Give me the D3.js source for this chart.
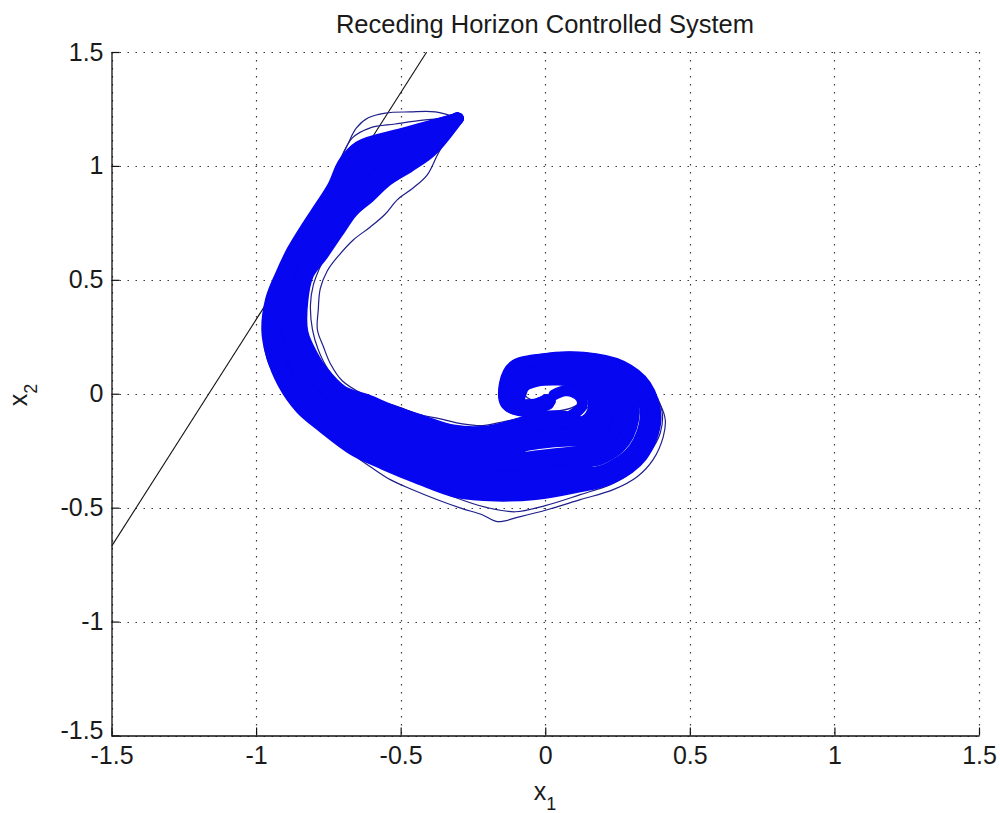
<!DOCTYPE html>
<html>
<head>
<meta charset="utf-8">
<script src="https://cdn.jsdelivr.net/npm/d3@7"></script>
<style>
  body { margin: 0; background: #fff; }
  text { font-family: "Liberation Sans", Arial, Helvetica, sans-serif; fill: #1a1a1a; }
</style>
</head>
<body>
<svg id="chart" width="1000" height="813"></svg>
<script>
// Axis ticks
const xTickValues = [-1.5, -1, -0.5, 0, 0.5, 1, 1.5];
const yTickValues = [-1.5, -1, -0.5, 0, 0.5, 1, 1.5];

// State constraint boundary (x1, x2 end points)
const boundaryX1 = [-1.5, -0.41];
const boundaryX2 = [-0.67, 1.5];

// Closed-loop state trajectories [x1, x2] from the common initial state
const run01 = [[-0.300,1.210],[-0.494,1.143],[-0.645,1.086],[-0.699,1.013],[-0.734,0.914],[-0.777,0.827],[-0.823,0.739],[-0.875,0.631],[-0.916,0.522],[-0.950,0.412],[-0.963,0.280],[-0.948,0.171],[-0.907,0.043],[-0.847,-0.065],[-0.768,-0.150],[-0.665,-0.247],[-0.558,-0.311],[-0.441,-0.372],[-0.304,-0.434],[-0.171,-0.449],[-0.034,-0.442],[0.102,-0.413],[0.228,-0.373],[0.334,-0.276],[0.383,-0.108],[0.348,0.038],[0.266,0.122],[0.132,0.160],[-0.018,0.152],[-0.111,0.121],[-0.141,0.045],[-0.135,-0.047],[-0.067,-0.077],[0.012,-0.045]];
const run02 = [[-0.302,1.206],[-0.477,1.130],[-0.615,1.071],[-0.673,1.000],[-0.713,0.905],[-0.758,0.822],[-0.805,0.734],[-0.857,0.627],[-0.900,0.522],[-0.931,0.412],[-0.941,0.278],[-0.924,0.171],[-0.883,0.053],[-0.822,-0.052],[-0.742,-0.129],[-0.641,-0.217],[-0.537,-0.275],[-0.420,-0.335],[-0.286,-0.388],[-0.159,-0.391],[-0.031,-0.384],[0.097,-0.359],[0.211,-0.330],[0.305,-0.243],[0.346,-0.094],[0.312,0.036],[0.237,0.110],[0.116,0.146],[-0.019,0.138],[-0.105,0.106],[-0.131,0.037],[-0.127,-0.046],[-0.062,-0.072],[0.008,-0.040]];
const run03 = [[-0.305,1.212],[-0.460,1.116],[-0.585,1.056],[-0.647,0.986],[-0.691,0.896],[-0.739,0.818],[-0.786,0.728],[-0.838,0.624],[-0.883,0.522],[-0.912,0.412],[-0.920,0.276],[-0.899,0.171],[-0.860,0.063],[-0.797,-0.038],[-0.716,-0.108],[-0.618,-0.188],[-0.514,-0.243],[-0.399,-0.299],[-0.267,-0.341],[-0.148,-0.339],[-0.029,-0.326],[0.091,-0.306],[0.194,-0.287],[0.275,-0.210],[0.308,-0.079],[0.276,0.034],[0.208,0.099],[0.101,0.129],[-0.021,0.121],[-0.098,0.091],[-0.122,0.029],[-0.119,-0.045],[-0.057,-0.066],[0.015,-0.035]];
const run04 = [[-0.301,1.209],[-0.444,1.103],[-0.557,1.042],[-0.623,0.974],[-0.671,0.889],[-0.721,0.814],[-0.770,0.724],[-0.822,0.621],[-0.868,0.522],[-0.894,0.412],[-0.901,0.275],[-0.877,0.171],[-0.839,0.072],[-0.774,-0.026],[-0.692,-0.088],[-0.597,-0.160],[-0.493,-0.213],[-0.380,-0.266],[-0.251,-0.299],[-0.139,-0.290],[-0.026,-0.272],[0.087,-0.257],[0.178,-0.248],[0.248,-0.180],[0.274,-0.066],[0.242,0.033],[0.182,0.088],[0.087,0.112],[-0.023,0.105],[-0.092,0.077],[-0.113,0.022],[-0.112,-0.044],[-0.052,-0.062],[0.005,-0.030]];
const run05 = [[-0.303,1.208],[-0.428,1.090],[-0.528,1.027],[-0.598,0.962],[-0.650,0.881],[-0.703,0.809],[-0.753,0.719],[-0.805,0.618],[-0.852,0.522],[-0.876,0.412],[-0.881,0.273],[-0.854,0.171],[-0.817,0.081],[-0.751,-0.014],[-0.667,-0.068],[-0.575,-0.132],[-0.471,-0.182],[-0.361,-0.232],[-0.234,-0.255],[-0.129,-0.240],[-0.023,-0.218],[0.082,-0.207],[0.162,-0.208],[0.220,-0.149],[0.239,-0.053],[0.208,0.031],[0.155,0.076],[0.072,0.095],[-0.024,0.089],[-0.085,0.062],[-0.103,0.015],[-0.105,-0.042],[-0.047,-0.057],[0.018,-0.032]];
const run06 = [[-0.300,1.207],[-0.411,1.076],[-0.498,1.012],[-0.572,0.948],[-0.628,0.872],[-0.684,0.805],[-0.734,0.713],[-0.786,0.615],[-0.835,0.522],[-0.857,0.412],[-0.860,0.271],[-0.829,0.171],[-0.794,0.091],[-0.726,0.000],[-0.641,-0.047],[-0.552,-0.103],[-0.448,-0.150],[-0.340,-0.196],[-0.215,-0.209],[-0.118,-0.188],[-0.021,-0.160],[0.076,-0.154],[0.145,-0.165],[0.190,-0.116],[0.201,-0.038],[0.172,0.029],[0.126,0.065],[0.057,0.078],[-0.026,0.072],[-0.078,0.047],[-0.094,0.007],[-0.097,-0.041],[-0.042,-0.051],[0.010,-0.028]];
const run07 = [[-0.302,1.205],[-0.394,1.063],[-0.468,0.997],[-0.546,0.935],[-0.607,0.863],[-0.665,0.800],[-0.716,0.708],[-0.768,0.611],[-0.819,0.522],[-0.838,0.412],[-0.838,0.269],[-0.805,0.171],[-0.770,0.101],[-0.701,0.013],[-0.615,-0.026],[-0.528,-0.073],[-0.424,-0.118],[-0.319,-0.159],[-0.197,-0.163],[-0.108,-0.135],[-0.018,-0.102],[0.071,-0.100],[0.128,-0.122],[0.161,-0.083],[0.164,-0.024],[0.136,0.027],[0.097,0.053],[0.041,0.060],[-0.027,0.055],[-0.072,0.032],[-0.084,-0.001],[-0.089,-0.040],[-0.037,-0.046],[0.003,-0.025]];
const run08 = [[-0.304,1.210],[-0.436,1.096],[-0.540,1.034],[-0.610,0.968],[-0.660,0.885],[-0.712,0.811],[-0.762,0.721],[-0.813,0.619],[-0.860,0.520],[-0.885,0.414],[-0.891,0.274],[-0.866,0.170],[-0.828,0.076],[-0.762,-0.020],[-0.680,-0.078],[-0.586,-0.146],[-0.482,-0.197],[-0.370,-0.249],[-0.243,-0.277],[-0.134,-0.265],[-0.020,-0.190],[0.058,-0.120],[0.103,-0.085],[0.127,-0.054],[0.124,-0.019],[0.100,0.006],[0.068,0.013],[0.030,-0.005]];
const run09 = [[-0.303,1.210],[-0.469,1.123],[-0.601,1.064],[-0.661,0.993],[-0.702,0.901],[-0.749,0.820],[-0.796,0.731],[-0.848,0.626],[-0.892,0.524],[-0.922,0.410],[-0.932,0.277],[-0.919,0.169],[-0.885,0.052],[-0.830,-0.056],[-0.756,-0.140],[-0.654,-0.233],[-0.550,-0.292],[-0.431,-0.355],[-0.295,-0.412],[-0.164,-0.419],[-0.033,-0.415],[0.099,-0.388],[0.212,-0.333],[0.307,-0.245],[0.348,-0.095],[0.315,0.036],[0.239,0.111],[0.117,0.147],[-0.019,0.139],[-0.105,0.107],[-0.132,0.038],[-0.125,-0.046],[-0.060,-0.070],[0.010,-0.038]];
const run10 = [[-0.301,1.207],[-0.421,1.085],[-0.516,1.021],[-0.588,0.956],[-0.641,0.877],[-0.695,0.807],[-0.745,0.716],[-0.797,0.617],[-0.845,0.525],[-0.875,0.409],[-0.886,0.273],[-0.868,0.172],[-0.843,0.070],[-0.782,-0.030],[-0.704,-0.098],[-0.607,-0.174],[-0.503,-0.228],[-0.390,-0.282],[-0.259,-0.320],[-0.143,-0.314],[-0.027,-0.299],[0.089,-0.281],[0.184,-0.262],[0.238,-0.169],[0.256,-0.059],[0.225,0.032],[0.168,0.082],[0.079,0.104],[-0.023,0.097],[-0.088,0.069],[-0.108,0.018],[-0.108,-0.043],[-0.050,-0.060],[0.012,-0.030]];
const run11 = [[-0.304,1.209],[-0.490,1.140],[-0.637,1.082],[-0.692,1.009],[-0.729,0.911],[-0.772,0.826],[-0.818,0.737],[-0.870,0.630],[-0.912,0.522],[-0.943,0.413],[-0.950,0.279],[-0.929,0.171],[-0.880,0.054],[-0.816,-0.048],[-0.730,-0.119],[-0.631,-0.204],[-0.527,-0.260],[-0.410,-0.319],[-0.277,-0.366],[-0.154,-0.367],[-0.030,-0.357],[0.094,-0.335],[0.218,-0.347],[0.326,-0.267],[0.373,-0.104],[0.339,0.038],[0.258,0.119],[0.128,0.159],[-0.018,0.151],[-0.110,0.117],[-0.139,0.043],[-0.133,-0.047],[-0.065,-0.076],[0.010,-0.042]];
const run12 = [[-0.302,1.208],[-0.419,1.083],[-0.512,1.019],[-0.584,0.955],[-0.639,0.876],[-0.693,0.807],[-0.743,0.716],[-0.795,0.616],[-0.843,0.520],[-0.866,0.414],[-0.869,0.272],[-0.841,0.173],[-0.804,0.087],[-0.737,-0.007],[-0.653,-0.057],[-0.562,-0.116],[-0.458,-0.165],[-0.350,-0.212],[-0.224,-0.231],[-0.123,-0.212],[-0.022,-0.187],[0.079,-0.178],[0.153,-0.185],[0.204,-0.131],[0.219,-0.045],[0.189,0.030],[0.139,0.070],[0.064,0.086],[-0.025,0.080],[-0.082,0.054],[-0.098,0.011],[-0.101,-0.042],[-0.045,-0.054],[0.014,-0.030]];
const run13 = [[-0.303,1.206],[-0.402,1.069],[-0.482,1.004],[-0.558,0.941],[-0.617,0.867],[-0.674,0.802],[-0.725,0.711],[-0.777,0.613],[-0.826,0.524],[-0.847,0.410],[-0.848,0.270],[-0.816,0.172],[-0.781,0.096],[-0.713,0.007],[-0.627,-0.036],[-0.539,-0.087],[-0.435,-0.133],[-0.329,-0.176],[-0.206,-0.185],[-0.113,-0.160],[-0.019,-0.129],[0.074,-0.125],[0.136,-0.142],[0.175,-0.098],[0.181,-0.030],[0.152,0.028],[0.111,0.058],[0.048,0.068],[-0.027,0.063],[-0.075,0.039],[-0.088,0.003],[-0.093,-0.040],[-0.040,-0.048],[0.006,-0.026]];

// Trajectories that stray to the edges of the bundle
const run14 = [[-0.304,1.211],[-0.415,1.202],[-0.519,1.184],[-0.605,1.167],[-0.667,1.123],[-0.702,1.048],[-0.733,0.961],[-0.771,0.860],[-0.816,0.763],[-0.861,0.662],[-0.906,0.557],[-0.944,0.447],[-0.968,0.342],[-0.975,0.246],[-0.961,0.149],[-0.930,0.070],[-0.888,0.000],[-0.850,-0.070],[-0.802,-0.132],[-0.743,-0.197],[-0.674,-0.259],[-0.605,-0.320],[-0.536,-0.377],[-0.467,-0.417],[-0.373,-0.465],[-0.287,-0.504],[-0.218,-0.531],[-0.166,-0.561],[-0.086,-0.539],[0.007,-0.509],[0.121,-0.465],[0.235,-0.421],[0.318,-0.364],[0.373,-0.289],[0.408,-0.189],[0.415,-0.114],[0.398,-0.048],[0.363,0.018],[0.304,0.075],[0.235,0.127],[0.145,0.162],[0.028,0.171],[-0.062,0.162],[-0.121,0.118],[-0.145,0.061],[-0.121,-0.013],[-0.052,-0.048],[0.017,-0.035]];
const run15 = [[-0.304,1.211],[-0.335,1.136],[-0.373,1.048],[-0.408,0.961],[-0.456,0.904],[-0.512,0.851],[-0.553,0.789],[-0.605,0.732],[-0.664,0.675],[-0.712,0.610],[-0.754,0.539],[-0.778,0.461],[-0.785,0.368],[-0.788,0.281],[-0.767,0.206],[-0.743,0.132],[-0.702,0.057],[-0.633,0.000],[-0.536,-0.048],[-0.432,-0.092],[-0.363,-0.110],[-0.287,-0.132],[-0.218,-0.140],[-0.145,-0.123],[-0.062,-0.101],[0.028,-0.079],[0.093,-0.061],[0.138,-0.018],[0.145,0.031],[0.114,0.075],[0.062,0.096],[0.007,0.096],[-0.045,0.075],[-0.080,0.026],[-0.062,-0.018],[-0.010,-0.031],[0.014,-0.018]];
const run16 = [[-0.304,1.211],[-0.346,1.123],[-0.391,1.061],[-0.439,1.018],[-0.501,0.991],[-0.553,0.961],[-0.598,0.895],[-0.640,0.829],[-0.691,0.754],[-0.733,0.675],[-0.771,0.579],[-0.802,0.478],[-0.812,0.390],[-0.805,0.281],[-0.785,0.193],[-0.750,0.105],[-0.691,0.026],[-0.605,-0.018],[-0.501,-0.061],[-0.398,-0.114],[-0.311,-0.149],[-0.225,-0.167],[-0.138,-0.149],[-0.052,-0.123],[0.035,-0.105],[0.104,-0.092],[0.156,-0.048],[0.173,0.018],[0.149,0.070],[0.104,0.105],[0.035,0.114],[-0.035,0.096],[-0.086,0.053],[-0.097,-0.004],[-0.059,-0.039],[0.000,-0.044]];
const run17 = [[-0.304,1.211],[-0.380,1.237],[-0.467,1.237],[-0.553,1.232],[-0.612,1.211],[-0.653,1.167],[-0.684,1.092],[-0.716,1.004],[-0.750,0.895],[-0.792,0.798],[-0.837,0.697],[-0.882,0.596],[-0.923,0.491],[-0.954,0.390],[-0.965,0.289],[-0.951,0.193],[-0.916,0.114],[-0.875,0.039],[-0.830,-0.026],[-0.771,-0.092],[-0.702,-0.149],[-0.633,-0.202],[-0.553,-0.268],[-0.467,-0.333],[-0.363,-0.390],[-0.259,-0.430],[-0.156,-0.443],[-0.052,-0.452],[0.052,-0.443],[0.156,-0.412],[0.242,-0.368],[0.311,-0.311],[0.363,-0.237],[0.391,-0.149],[0.387,-0.070],[0.356,0.009],[0.301,0.070],[0.225,0.118],[0.138,0.149],[0.035,0.158],[-0.052,0.140],[-0.104,0.096],[-0.128,0.035],[-0.104,-0.026],[-0.035,-0.061],[0.024,-0.039]];
const run18 = [[-0.304,1.211],[-0.467,1.167],[-0.605,1.114],[-0.681,1.026],[-0.743,0.895],[-0.805,0.763],[-0.861,0.632],[-0.909,0.500],[-0.944,0.368],[-0.951,0.259],[-0.937,0.158],[-0.902,0.070],[-0.861,-0.009],[-0.812,-0.083],[-0.754,-0.149],[-0.684,-0.211],[-0.615,-0.276],[-0.536,-0.333],[-0.432,-0.390],[-0.318,-0.452],[-0.201,-0.500],[-0.104,-0.518],[0.000,-0.491],[0.121,-0.443],[0.225,-0.399],[0.301,-0.342],[0.356,-0.268],[0.398,-0.171],[0.404,-0.079],[0.380,-0.004],[0.328,0.061],[0.259,0.114],[0.173,0.149],[0.069,0.162],[-0.028,0.149],[-0.093,0.105],[-0.124,0.048],[-0.111,-0.018],[-0.045,-0.057],[0.014,-0.044]];

const coreRuns = [run01, run02, run03, run04, run05, run06, run07, run08, run09, run10, run11, run12, run13];
const strayRuns = [run14, run15, run16, run17, run18];

const svg = d3.select("#chart");
const W = 1000, H = 813;
const plotLeft = 111.5, plotRight = 979, plotTop = 52, plotBottom = 735.5;

const x = d3.scaleLinear().domain([-1.5, 1.5]).range([plotLeft, plotRight]);
const y = d3.scaleLinear().domain([-1.5, 1.5]).range([plotBottom, plotTop]);

svg.append("rect").attr("width", W).attr("height", H).attr("fill", "#fff");

svg.append("defs").append("clipPath").attr("id", "plotArea")
  .append("rect").attr("x", plotLeft).attr("y", plotTop)
  .attr("width", plotRight - plotLeft).attr("height", plotBottom - plotTop);

// Dotted grid
const grid = svg.append("g").attr("stroke", "#3a3a3a").attr("stroke-width", 1.2)
  .attr("stroke-dasharray", "1.5,6.5");
grid.selectAll("line.v").data(xTickValues).join("line").attr("class", "v")
  .attr("x1", d => Math.round(x(d)) + 0.5).attr("x2", d => Math.round(x(d)) + 0.5)
  .attr("y1", plotTop).attr("y2", plotBottom);
grid.selectAll("line.h").data(yTickValues).join("line").attr("class", "h")
  .attr("y1", d => Math.round(y(d)) + 0.5).attr("y2", d => Math.round(y(d)) + 0.5)
  .attr("x1", plotLeft).attr("x2", plotRight);

const plot = svg.append("g").attr("clip-path", "url(#plotArea)");
const line = d3.line().x(d => x(d[0])).y(d => y(d[1])).curve(d3.curveCatmullRom.alpha(0.5));

// Boundary line
plot.append("line")
  .attr("x1", x(boundaryX1[0])).attr("y1", y(boundaryX2[0]))
  .attr("x2", x(boundaryX1[1])).attr("y2", y(boundaryX2[1]))
  .attr("stroke", "#111").attr("stroke-width", 1.1);

// Stray trajectories (thin) under the dense bundle
plot.selectAll("path.stray").data(strayRuns).join("path").attr("class", "stray")
  .attr("d", line).attr("fill", "none")
  .attr("stroke", "#1e1e8c").attr("stroke-width", 1.2)
  .attr("stroke-linejoin", "round");

// Dense bundle of trajectories
plot.selectAll("path.core").data(coreRuns).join("path").attr("class", "core")
  .attr("d", line).attr("fill", "none")
  .attr("stroke", "#0606f0").attr("stroke-width", 11)
  .attr("stroke-linejoin", "round").attr("stroke-linecap", "round");

// Axes (left and bottom only, ticks pointing inward)
const fmt = d => String(d);
const yAxis = svg.append("g").attr("transform", `translate(${plotLeft},0)`)
  .call(d3.axisLeft(y).tickValues(yTickValues).tickFormat(fmt).tickSize(-8).tickSizeOuter(0).tickPadding(8));
const xAxis = svg.append("g").attr("transform", `translate(0,${plotBottom})`)
  .call(d3.axisBottom(x).tickValues(xTickValues).tickFormat(fmt).tickSize(-8).tickSizeOuter(0).tickPadding(11));
[xAxis, yAxis].forEach(a => {
  a.select(".domain").attr("stroke", "#111").attr("stroke-width", 1.3);
  a.selectAll(".tick line").attr("stroke", "#111").attr("stroke-width", 1.2);
  a.selectAll(".tick text").attr("font-size", 25).attr("fill", "#1a1a1a")
    .attr("font-family", "\"Liberation Sans\", Arial, sans-serif");
});
// The lowest y label sits a little above its tick so it clears the x labels
yAxis.selectAll(".tick text").filter(d => d === -1.5).attr("dy", "0.1em");

// Title
svg.append("text").attr("x", 545).attr("y", 33).attr("text-anchor", "middle")
  .attr("font-size", 25.5).text("Receding Horizon Controlled System");

// Axis labels with subscripts
const xl = svg.append("text").attr("x", 545).attr("y", 800).attr("text-anchor", "middle").attr("font-size", 25);
xl.append("tspan").text("x");
xl.append("tspan").attr("dy", 10).attr("font-size", 18).text("1");

const yl = svg.append("text").attr("transform", "translate(27,395) rotate(-90)")
  .attr("text-anchor", "middle").attr("font-size", 25);
yl.append("tspan").text("x");
yl.append("tspan").attr("dy", 10).attr("font-size", 18).text("2");
</script>
</body>
</html>
